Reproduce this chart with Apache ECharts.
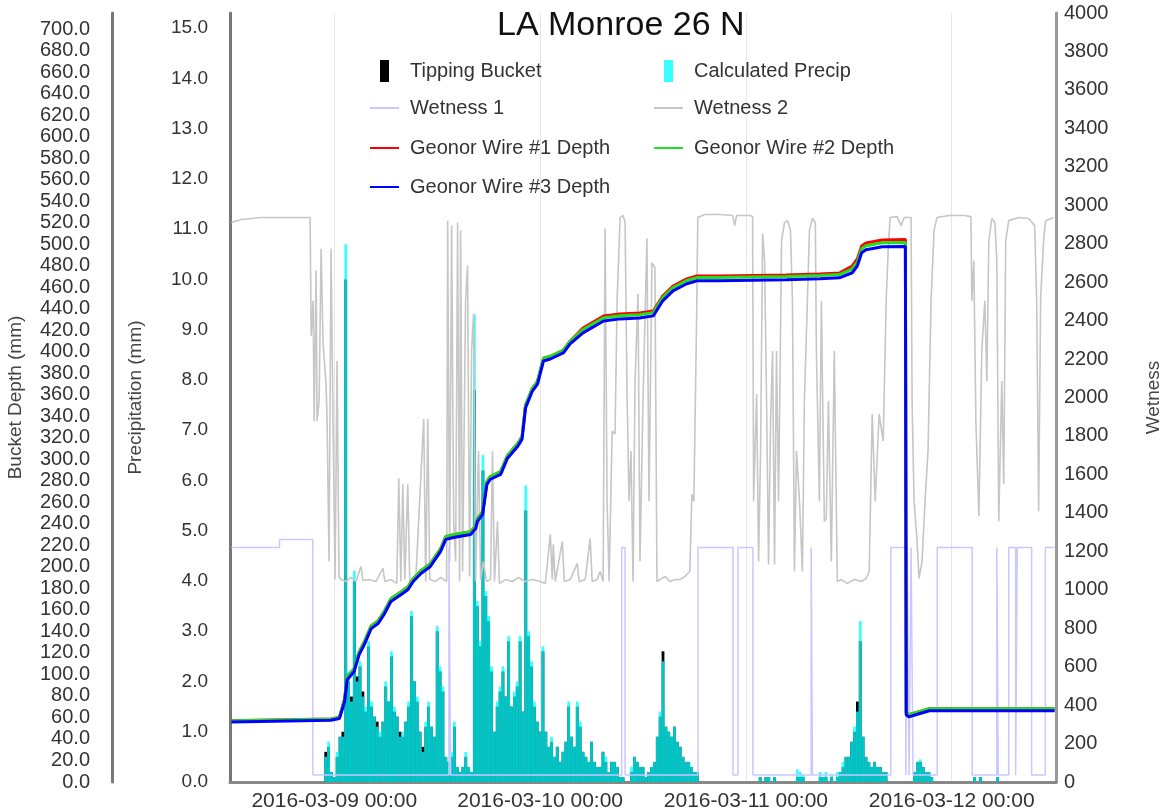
<!DOCTYPE html>
<html>
<head>
<meta charset="utf-8">
<script src="https://cdn.jsdelivr.net/npm/echarts@6/dist/echarts.min.js"></script>
<style>
html,body{margin:0;padding:0;background:#fff;overflow:hidden;}
#chart{width:1165px;height:809px;}
</style>
</head>
<body>
<div id="chart"></div>
<script>
// ---- time base (hours are counted from 2016-03-08 12:00) ----
const START = new Date(2016, 2, 8, 12, 0, 0).getTime();
const HOUR = 3600000;
const SPAN_HOURS = 96;

// ---- precipitation bars: 20-minute bins starting at hour 11 ----
const precipStartHour = 11;
const precipStepHours = 1 / 3;
const calculatedPrecip = [
 0.5,0.8,0.2,0.1,0.6,0.9,0.9,10.7,2.2,1.6,4.2,2.0,
 2.4,1.7,1.5,2.8,1.6,1.3,1.1,1.0,1.2,2.0,1.6,2.6,
 1.5,1.3,0.9,1.0,1.2,1.6,3.4,2.0,1.7,1.0,0.6,1.2,
 1.6,1.1,0.9,3.1,2.3,1.9,0.5,0.4,0.6,1.2,0.3,0.2,
 0.3,0.6,0.3,0.2,9.3,3.6,2.8,6.5,3.8,3.3,2.3,1.0,
 1.6,1.9,2.3,1.7,2.9,1.5,1.8,2.0,2.9,1.4,5.9,3.0,
 2.4,1.6,1.2,1.0,2.7,1.0,0.7,0.9,0.5,0.7,0.4,0.6,
 0.8,1.6,0.9,0.7,1.6,1.2,0.6,0.5,0.4,0.8,0.4,0.3,
 0.3,0.6,0.5,0.2,0.4,0.4,0.3,0.1,0.1,0,0,0.3,
 0.5,0.4,0.3,0.3,0.1,0.2,0.3,0.4,0.9,1.4,2.4,1.1,
 1.0,0.9,1.1,0.8,0.7,0.5,0.4,0.4,0.3,0.2,0.2,0,
 0,0,0,0,0,0,0,0,0,0,0,0,
 0,0,0,0,0,0,0,0,0.1,0,0.1,0.1,
 0,0.1,0,0,0,0,0,0,0,0.25,0.2,0.15,
 0,0,0,0,0,0.2,0.1,0.2,0,0.15,0,0.2,
 0.2,0.4,0.5,0.5,0.8,1.1,1.4,3.2,0.9,0.5,0.4,0.3,
 0.4,0.3,0.3,0.2,0.2,0,0,0,0,0,0,0,
 0,0,0.2,0.4,0.45,0.3,0.2,0.2,0.1,0,0,0,
 0,0,0,0,0,0,0,0,0,0,0,0.1,
 0,0.1,0,0,0,0,0,0.1,0,0,0,0
];
const tippingBucket = [
 0.6,0.7,0.2,0.1,0.5,0.9,1.0,10.0,2.0,1.7,4.0,2.1,
 2.3,1.8,1.4,2.7,1.5,1.3,1.2,0.9,1.2,1.9,1.6,2.5,
 1.4,1.3,1.0,0.9,1.2,1.5,3.3,2.0,1.6,1.0,0.7,1.1,
 1.5,1.1,0.9,3.0,2.2,1.8,0.5,0.4,0.5,1.1,0.3,0.2,
 0.3,0.5,0.3,0.2,7.8,3.5,2.7,6.2,3.7,3.2,2.2,1.0,
 1.5,1.8,2.2,1.7,2.8,1.5,1.7,1.9,2.8,1.4,5.4,2.9,
 2.3,1.5,1.2,1.0,2.6,1.0,0.7,0.8,0.5,0.7,0.4,0.6,
 0.8,1.5,0.9,0.7,1.5,1.1,0.6,0.5,0.4,0.8,0.4,0.3,
 0.3,0.6,0.4,0.2,0.4,0.4,0.3,0.1,0.1,0,0,0.2,
 0.5,0.4,0.3,0.3,0.1,0.2,0.3,0.4,0.9,1.3,2.6,1.1,
 1.0,0.9,1.1,0.8,0.7,0.5,0.4,0.4,0.3,0.2,0.2,0,
 0,0,0,0,0,0,0,0,0,0,0,0,
 0,0,0,0,0,0,0,0,0.1,0,0.1,0.1,
 0,0.1,0,0,0,0,0,0,0,0.1,0.1,0.1,
 0,0,0,0,0,0.1,0.1,0.1,0,0.1,0,0.1,
 0.2,0.3,0.5,0.5,0.8,1.0,1.6,2.8,0.9,0.5,0.4,0.3,
 0.4,0.3,0.3,0.2,0.2,0,0,0,0,0,0,0,
 0,0,0.2,0.4,0.4,0.3,0.2,0.2,0.1,0,0,0,
 0,0,0,0,0,0,0,0,0,0,0,0.1,
 0,0.1,0,0,0,0,0,0.1,0,0,0,0
];

// ---- Wetness 1 (step changes) ----
const wet1Hours = [0,5.61,9.50,25.37,25.57,45.52,45.91,54.41,58.49,59.07,60.82,67.61,67.76,76.90,78.65,78.80,79.03,79.26,79.49,82.32,86.39,89.26,89.43,90.65,91.46,91.64,93.32,94.92,96];
const wet1Values = [1220,1262,36,1220,36,1220,36,1220,36,1220,36,1220,36,1220,36,1220,36,1220,36,1220,36,1220,36,1220,36,1220,36,1220,1220];

// ---- Wetness 2 ----
const wet2Hours = [0,1.16,3.49,9.18,9.30,9.53,9.65,9.88,9.99,10.23,10.46,10.69,11.04,11.16,11.39,11.62,11.85,12.09,12.32,12.55,12.78,13.37,13.95,14.53,15.11,15.34,16.04,16.85,17.67,17.90,18.60,19.29,19.52,19.76,19.99,20.22,20.57,20.80,21.50,22.43,22.66,22.90,23.13,23.83,24.41,25.10,25.22,25.45,25.68,25.92,26.15,26.38,26.61,26.73,26.96,27.31,27.54,27.78,28.01,28.24,28.47,28.82,29.06,29.40,29.75,30.22,30.45,30.68,31.03,31.26,31.96,32.77,33.47,34.28,35.10,36.03,36.61,37.19,37.42,37.54,37.77,38.59,38.82,39.52,40.33,40.56,41.26,41.84,42.07,42.65,43.00,43.35,43.58,43.81,44.05,44.40,44.74,44.98,45.33,45.67,45.91,46.14,46.37,46.60,46.84,47.07,47.42,47.65,48.00,48.46,48.70,49.04,49.39,49.63,49.97,50.56,51.14,51.72,52.30,52.88,53.46,53.70,53.93,54.28,54.39,55.21,56.95,58.46,58.69,58.92,60.43,60.78,60.90,61.25,61.48,61.71,61.95,62.18,62.41,62.64,62.88,63.11,63.34,63.57,63.81,64.16,64.50,64.85,65.20,65.43,65.66,65.90,66.25,66.59,66.82,67.17,67.41,67.76,68.10,68.22,68.57,68.80,69.15,69.38,69.62,69.96,70.31,70.66,71.12,71.82,72.64,73.45,74.03,74.38,74.73,75.08,75.54,76.01,76.36,76.59,76.82,77.64,78.10,78.45,79.26,79.38,79.61,79.96,80.19,80.54,80.89,81.24,81.59,81.94,82.28,83.68,85.42,86.24,86.35,86.58,86.82,87.17,87.51,87.86,88.10,88.33,88.68,89.03,89.26,89.49,89.84,90.07,90.30,90.65,91.81,92.98,93.67,93.91,94.14,94.37,94.72,94.95,95.88];
const wet2Values = [2910,2926,2936,2936,2321,2503,1877,2660,1877,1982,2774,2279,2070,1877,1147,2774,1877,1053,2190,1069,1053,1043,1064,1043,1121,1048,1053,1043,1111,1043,1053,1033,1580,1043,1549,1053,1549,1043,1053,1888,1043,1888,1053,1043,1064,1043,2920,1147,2894,1356,1147,2910,1043,2868,1095,2503,2686,1069,2242,2436,1043,1721,1053,1147,1043,1053,1721,1043,1356,1033,1053,1043,1064,1043,1053,1043,1033,1288,1053,1236,1043,1252,1043,1053,1137,1043,1053,1267,1043,1053,1095,1043,2879,1460,1043,1825,1810,2503,2936,2947,2910,2018,1460,1721,1043,2086,2540,1147,1982,2827,1460,2701,2675,1043,1053,1069,1043,1053,1053,1069,1095,1497,1460,2503,2936,2952,2952,2947,2894,2947,2947,2941,1460,2018,1147,1721,2853,2712,1982,1132,1877,2242,1132,2242,1460,2816,2910,2920,2868,2503,1095,1721,1460,1095,1982,2503,2868,2931,2910,2242,1460,2503,1356,1372,1982,1147,2242,1043,1053,1033,1053,1043,1059,1095,1914,1460,1914,1773,2503,2764,2936,2941,2894,2936,2936,1982,1460,1252,1059,1147,1460,1721,2503,2868,2936,2947,2947,2941,2503,2712,1877,1382,2242,2503,2086,2816,2931,2910,2712,1356,2086,1549,2816,2920,2936,2931,2894,2503,1408,2519,2816,2920,2936];

// ---- Geonor wire depths (bucket depth, mm) ----
const geonorHours = [0,11.6,12.6,13.2,13.5,14.3,14.9,15.5,16.0,16.3,17.1,17.8,18.6,19.8,20.6,21.2,22.1,23.2,24.4,25.0,25.9,27.9,28.5,28.7,29.3,29.8,30.2,31.4,32.2,33.4,33.9,34.3,35.1,35.7,36.4,37.2,38.7,39.5,41.0,43.4,45.3,47.6,49.2,50.3,51.5,53.1,54.3,56.9,64.7,68.6,70.9,72.4,73.0,73.5,74.0,75.9,78.6,78.7,79.0,80.2,81.4,96.0];
const geonorWire1 = [56.9,58.5,60.0,77.1,97.6,105.0,120.9,130.2,139.5,145.1,149.8,158.2,170.3,176.8,181.5,188.9,196.4,202.9,216.9,228.1,229.9,232.7,238.3,244.8,251.4,279.3,284.0,288.6,303.6,314.7,321.3,350.2,366.0,372.5,394.0,395.8,401.4,409.8,422.1,433.2,435.1,436.0,437.9,451.9,461.2,467.8,470.5,470.5,471.5,472.4,473.3,479.8,486.3,498.4,501.2,504.0,504.3,64.4,62.6,65.4,68.2,68.2];
const geonorWire2 = [56.9,58.5,60.0,77.1,97.6,105.0,120.9,130.2,139.5,145.1,149.8,158.2,170.3,176.8,181.5,188.9,196.4,202.9,216.9,228.1,229.9,232.7,238.3,244.8,251.4,279.3,284.0,288.6,303.6,314.7,321.3,350.2,366.0,372.5,394.0,395.8,401.4,409.8,420.6,431.7,433.6,434.5,436.4,450.4,459.7,466.3,469.0,469.0,470.0,470.9,471.8,477.2,483.7,495.8,498.6,501.4,501.7,64.4,62.6,65.4,68.2,68.2];
const geonorWire3 = [55.9,57.5,59.0,74.6,95.1,102.5,118.4,127.7,137.0,142.6,147.3,155.7,167.8,174.3,179.0,186.4,193.9,200.4,214.4,225.6,227.4,230.2,235.8,242.3,248.9,276.8,281.5,286.1,301.1,312.2,318.8,347.7,363.5,370.0,391.5,393.3,398.9,407.3,417.6,428.7,430.6,431.5,433.4,447.4,456.7,463.3,466.0,466.0,467.0,467.9,468.8,473.5,480.0,492.1,494.9,497.7,498.0,62.4,60.6,63.4,66.2,66.2];

// ---- axis tick settings ----
const precipAxis = {min: 0, max: 15.3, interval: 1};
const bucketAxis = {min: 0, max: 715, interval: 20};
const wetnessAxis = {min: 0, max: 4000, interval: 200};

// ---- helpers ----
const ts = h => START + h * HOUR;
const pairs = (hours, vals) => hours.map((h, i) => [ts(h), vals[i]]);
const binned = vals => vals.map((v, i) => [ts(precipStartHour + i * precipStepHours), v]);

const FONT = 'Liberation Sans, Arial, sans-serif';
const labelColor = '#333';

function legendBox(name, left, top, isBar) {
  return {
    data: [name], left: left, top: top, padding: 0,
    orient: 'horizontal', selectedMode: false,
    icon: 'rect',
    itemWidth: isBar ? 9 : 29, itemHeight: isBar ? 22 : 2,
    textStyle: {fontSize: 20, color: labelColor, fontFamily: FONT, padding: [0, 0, 0, isBar ? 16 : 6]}
  };
}

const chart = echarts.init(document.getElementById('chart'), null, {renderer: 'canvas'});
chart.setOption({
  animation: false,
  backgroundColor: '#fff',
  title: {
    text: 'LA Monroe 26 N', left: 497, top: 9, padding: 0,
    textStyle: {fontSize: 34, fontWeight: 'normal', color: '#111', fontFamily: FONT}
  },
  legend: [
    legendBox('Tipping Bucket', 380, 60, true),
    legendBox('Calculated Precip', 664, 60, true),
    legendBox('Wetness 1', 370, 98, false),
    legendBox('Wetness 2', 654, 98, false),
    legendBox('Geonor Wire #1 Depth', 370, 138, false),
    legendBox('Geonor Wire #2 Depth', 654, 138, false),
    legendBox('Geonor Wire #3 Depth', 370, 177, false)
  ],
  grid: {left: 230, right: 109, top: 13, bottom: 27, containLabel: false, outerBoundsMode: 'none'},
  xAxis: {
    type: 'time', min: START, max: ts(SPAN_HOURS), splitNumber: 4,
    axisLine: {show: true, lineStyle: {color: '#888', width: 3}},
    axisTick: {show: false},
    splitLine: {show: true, lineStyle: {color: '#e6e6e6', width: 1}},
    axisLabel: {
      formatter: '{yyyy}-{MM}-{dd} {HH}:{mm}', showMinLabel: false, showMaxLabel: false,
      fontSize: 21, color: labelColor, fontFamily: FONT, margin: 9
    }
  },
  yAxis: [
    {
      type: 'value', position: 'left', name: 'Precipitation (mm)',
      min: precipAxis.min, max: precipAxis.max, interval: precipAxis.interval,
      nameLocation: 'middle', nameGap: 85, nameRotate: 90,
      nameTextStyle: {fontSize: 19, color: '#444', fontFamily: FONT},
      axisLine: {show: true, lineStyle: {color: '#777', width: 3}},
      axisTick: {show: false}, splitLine: {show: false},
      axisLabel: {
        formatter: v => Math.abs(v - Math.round(v)) < 1e-6 ? v.toFixed(1) : '',
        fontSize: 19, color: labelColor, fontFamily: FONT, margin: 22
      }
    },
    {
      type: 'value', position: 'left', offset: 118, name: 'Bucket Depth (mm)',
      min: bucketAxis.min, max: bucketAxis.max, interval: bucketAxis.interval,
      nameLocation: 'middle', nameGap: 87, nameRotate: 90,
      nameTextStyle: {fontSize: 19, color: '#444', fontFamily: FONT},
      axisLine: {show: true, lineStyle: {color: '#777', width: 3}},
      axisTick: {show: false}, splitLine: {show: false},
      axisLabel: {
        formatter: v => (Math.round(v) % 20 === 0 && Math.abs(v - Math.round(v)) < 1e-6) ? v.toFixed(1) : '',
        fontSize: 20, color: labelColor, fontFamily: FONT, margin: 22
      }
    },
    {
      type: 'value', position: 'right', name: 'Wetness',
      min: wetnessAxis.min, max: wetnessAxis.max, interval: wetnessAxis.interval,
      nameLocation: 'middle', nameGap: 88, nameRotate: 90,
      nameTextStyle: {fontSize: 19, color: '#444', fontFamily: FONT},
      axisLine: {show: true, lineStyle: {color: '#999', width: 3}},
      axisTick: {show: false}, splitLine: {show: false},
      axisLabel: {formatter: v => String(v), fontSize: 20, color: labelColor, fontFamily: FONT, margin: 8}
    }
  ],
  series: [
    {
      name: 'Wetness 2', type: 'line', yAxisIndex: 2, symbol: 'none',
      lineStyle: {color: '#c6c6c6', width: 1.6}, itemStyle: {color: '#c6c6c6'},
      data: pairs(wet2Hours, wet2Values)
    },
    {
      name: 'Tipping Bucket', type: 'bar', yAxisIndex: 0, barWidth: 2.8, barGap: '-100%',
      itemStyle: {color: '#000'}, data: binned(tippingBucket)
    },
    {
      name: 'Calculated Precip', type: 'bar', yAxisIndex: 0, barWidth: 2.8, barGap: '-100%',
      itemStyle: {color: 'rgba(0,255,255,0.78)'}, data: binned(calculatedPrecip)
    },
    {
      name: 'Wetness 1', type: 'line', yAxisIndex: 2, symbol: 'none', step: 'end',
      lineStyle: {color: '#c8c8ff', width: 1.5}, itemStyle: {color: '#c8c8ff'},
      data: pairs(wet1Hours, wet1Values)
    },
    {
      name: 'Geonor Wire #1 Depth', type: 'line', yAxisIndex: 1, symbol: 'none',
      lineStyle: {color: '#ff0000', width: 3}, itemStyle: {color: '#ff0000'},
      data: pairs(geonorHours, geonorWire1)
    },
    {
      name: 'Geonor Wire #2 Depth', type: 'line', yAxisIndex: 1, symbol: 'none',
      lineStyle: {color: '#1ee01e', width: 3}, itemStyle: {color: '#1ee01e'},
      data: pairs(geonorHours, geonorWire2)
    },
    {
      name: 'Geonor Wire #3 Depth', type: 'line', yAxisIndex: 1, symbol: 'none',
      lineStyle: {color: '#0000ff', width: 3}, itemStyle: {color: '#0000ff'},
      data: pairs(geonorHours, geonorWire3)
    }
  ]
});
</script>
</body>
</html>
